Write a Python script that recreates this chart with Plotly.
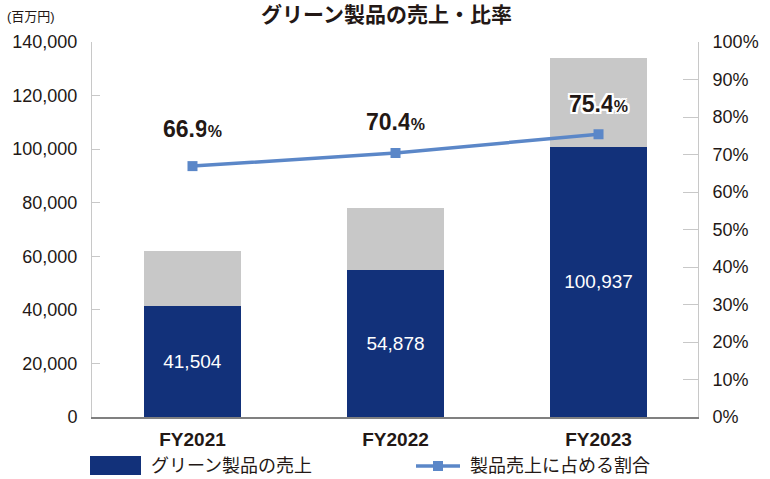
import plotly.graph_objects as go

categories = ["FY2021", "FY2022", "FY2023"]
green_sales = [41504, 54878, 100937]
total_sales = [62039, 77951, 133869]
ratio = [66.9, 70.4, 75.4]
ratio_labels = ["66.9", "70.4", "75.4"]
left_ticks = [0, 20000, 40000, 60000, 80000, 100000, 120000, 140000]
right_ticks = [0, 10, 20, 30, 40, 50, 60, 70, 80, 90, 100]

other_sales = [t - g for t, g in zip(total_sales, green_sales)]
xpos = list(range(len(categories)))

FONT = "Liberation Sans, Arial, Noto Sans CJK JP, sans-serif"
TXT = "#231815"
NAVY = "#12317a"
GREY = "#c8c8c8"
LINE = "#5b87c8"

L, R, T, B = 92, 698, 42, 417
W, H = 770, 479

fig = go.Figure()
fig.add_trace(go.Bar(
    x=xpos, y=green_sales, width=0.478, marker=dict(color=NAVY, line=dict(width=0)),
    text=[f"{v:,}" for v in green_sales], textposition="inside", insidetextanchor="middle",
    textfont=dict(color="white", size=19, family=FONT), showlegend=False, hoverinfo="skip"))
fig.add_trace(go.Bar(
    x=xpos, y=other_sales, width=0.478, marker=dict(color=GREY, line=dict(width=0)),
    showlegend=False, hoverinfo="skip"))
fig.add_trace(go.Scatter(
    x=xpos, y=ratio, yaxis="y2", mode="lines+markers",
    line=dict(color=LINE, width=3.5), marker=dict(symbol="square", size=10, color=LINE),
    showlegend=False, hoverinfo="skip"))

shifts = [37, 31, 30]
WHITE_OUTLINE = ("2px 0 0 white, -2px 0 0 white, 0 2px 0 white, 0 -2px 0 white, "
                 "2px 2px 0 white, -2px -2px 0 white, 2px -2px 0 white, -2px 2px 0 white")
for i, (v, lab) in enumerate(zip(ratio, ratio_labels)):
    fig.add_annotation(
        x=xpos[i], y=v, xref="x", yref="y2", yshift=shifts[i],
        text=f"<b>{lab}</b><span style='font-size:16px'><b>%</b></span>",
        showarrow=False, font=dict(size=23, color=TXT, family=FONT, shadow=WHITE_OUTLINE))

fig.update_layout(
    barmode="stack",
    width=W, height=H,
    margin=dict(l=L, r=W - R, t=T, b=H - B),
    plot_bgcolor="white", paper_bgcolor="white",
    font=dict(family=FONT, color=TXT),
    xaxis=dict(range=[-0.495, 2.49], tickvals=xpos,
               ticktext=[f"<b>{c}</b>" for c in categories],
               tickfont=dict(size=19, color=TXT, family=FONT), ticks="",
               showline=True, linecolor="#808080", linewidth=2, showgrid=False,
               zeroline=False, ticklabelstandoff=4),
    yaxis=dict(range=[0, 140000], tickvals=left_ticks,
               ticktext=[f"{v:,}" for v in left_ticks],
               tickfont=dict(size=18, color=TXT, family=FONT),
               ticks="inside", ticklen=8, tickcolor="#c8c8c8",
               showline=True, linecolor="#c8c8c8", linewidth=1,
               showgrid=False, zeroline=False, ticklabelstandoff=10),
    yaxis2=dict(range=[0, 100], tickvals=right_ticks,
                ticktext=[f"{v}%" for v in right_ticks],
                overlaying="y", side="right",
                tickfont=dict(size=18, color=TXT, family=FONT),
                ticks="inside", ticklen=15, tickcolor="#c8c8c8",
                showline=True, linecolor="#c8c8c8", linewidth=1,
                showgrid=False, zeroline=False, ticklabelstandoff=10),
)

pw = R - L
ph = B - T
def px(x):
    return (x - L) / pw
def py(y):
    return (B - y) / ph

fig.add_annotation(x=px(386), y=py(15), xref="paper", yref="paper", showarrow=False,
                   xanchor="center", yanchor="middle",
                   text="<b>グリーン製品の売上・比率</b>",
                   font=dict(size=21, color=TXT, family=FONT))
fig.add_annotation(x=px(5), y=py(16), xref="paper", yref="paper", showarrow=False,
                   xanchor="left", yanchor="middle",
                   text="(百万円)", font=dict(size=13, color=TXT, family=FONT))

# custom legend (paper coords)
fig.add_shape(type="rect", xref="paper", yref="paper", x0=px(90), x1=px(141),
              y0=py(475), y1=py(456), fillcolor=NAVY, line=dict(width=0))
fig.add_annotation(x=px(149), y=py(466), xref="paper", yref="paper", showarrow=False,
                   xanchor="left", yanchor="middle", text="グリーン製品の売上",
                   font=dict(size=18, color=TXT, family=FONT))
fig.add_shape(type="line", xref="paper", yref="paper", x0=px(416), x1=px(460),
              y0=py(466), y1=py(466), line=dict(color=LINE, width=3.5))
fig.add_shape(type="rect", xref="paper", yref="paper", x0=px(433), x1=px(443),
              y0=py(471), y1=py(461), fillcolor=LINE, line=dict(width=0))
fig.add_annotation(x=px(468), y=py(466), xref="paper", yref="paper", showarrow=False,
                   xanchor="left", yanchor="middle", text="製品売上に占める割合",
                   font=dict(size=18, color=TXT, family=FONT))

fig.write_html("out.html")
